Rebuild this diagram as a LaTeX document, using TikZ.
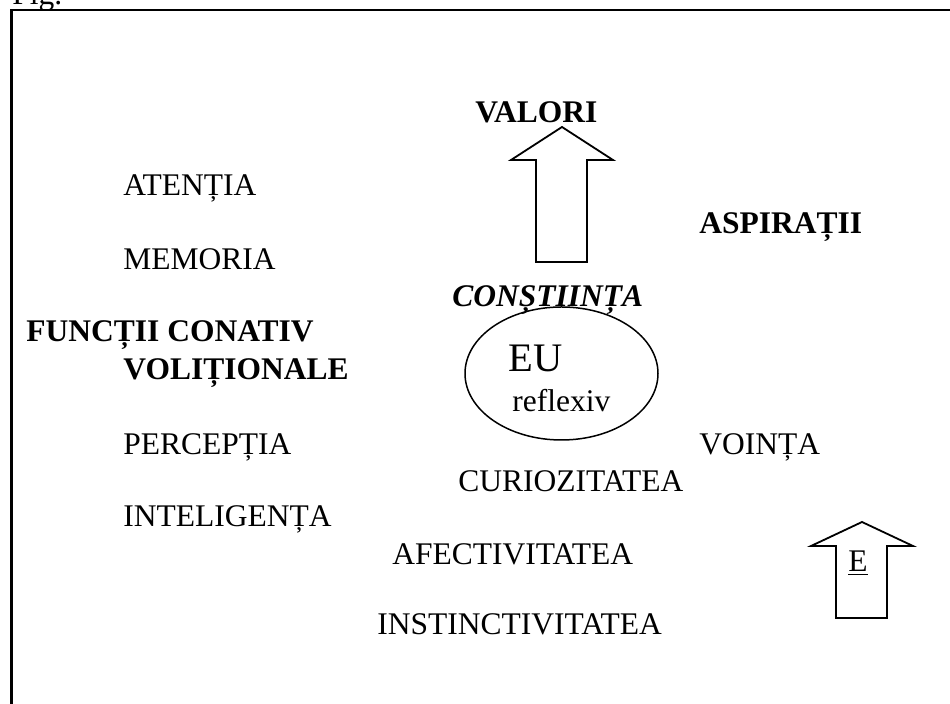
\documentclass[tikz,border=0pt]{standalone}
\usepackage{fontspec}
\setmainfont{Liberation Serif}
\usetikzlibrary{shapes.geometric,positioning}

\begin{document}
\begin{tikzpicture}[x=0.5pt,y=-0.5pt]
  	\tikzstyle{word} = [inner sep=0pt,anchor=base west,font=\fontsize{15.75}{18}\selectfont]
  	\tikzstyle{key} = [word,font=\fontsize{15.75}{18}\selectfont\bfseries]
  	\tikzstyle{self} = [ellipse,draw,line width=0.75pt,minimum width=96.5pt,minimum height=66.5pt,inner sep=0pt]
  	\tikzstyle{blockarrow} = [draw,line width=0.9pt,line join=miter]

	  \useasboundingbox (0,0) rectangle (950,704);
	  \draw [line width=1.2pt] (11.5,704) -- (11.5,10) -- (950,10);
	  \node [word] (fig) at (12,5) {Fig.};

	  % left column
	  \node [word] (atentia) at (123,196) {ATENȚIA};
	  \node [word] (memoria) at (123,270) {MEMORIA};
	  \node [key] (functii) at (26,342) {FUNCȚII CONATIV};
	  \node [key] (volitionale) at (123,380) {VOLIȚIONALE};
	  \node [word] (perceptia) at (123,455) {PERCEPȚIA};
	  \node [word] (inteligenta) at (123,527) {INTELIGENȚA};

	  % centre
	  \draw [blockarrow] (562,127) -- (613,160) -- (587,160) -- (587,262)
	    -- (536,262) -- (536,160) -- (511,160) -- cycle;
	  \node [key] (valori) at (475,123) {VALORI};
	  \node [self] (ego) at (561.5,373.5) {};
	  \node [key,font=\fontsize{15.75}{18}\selectfont\bfseries\itshape] (constiinta) at (452,307) {CONȘTIINȚA};
	  \node [word,font=\fontsize{20.25}{24}\selectfont] (eu) at (508,372) {EU};
	  \node [word] (reflexiv) at (512,412) {reflexiv};
	  \node [word] (curiozitatea) at (458,492) {CURIOZITATEA};
	  \node [word] (afectivitatea) at (392,565) {AFECTIVITATEA};
	  \node [word] (instinctivitatea) at (377,635) {INSTINCTIVITATEA};

	  % right column
	  \node [key] (aspiratii) at (699,234) {ASPIRAȚII};
	  \node [word] (vointa) at (699,455) {VOINȚA};
	  \draw [blockarrow] (862,522) -- (913,546) -- (887,546) -- (887,618)
	    -- (836,618) -- (836,546) -- (811,546) -- cycle;
	  \node [word] (e) at (848,572) {\underline{E}};
  \end{tikzpicture}
\end{document}
